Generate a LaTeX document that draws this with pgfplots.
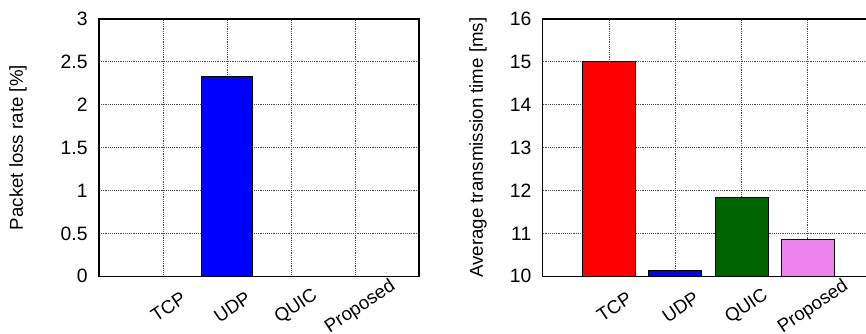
\documentclass[border=0pt]{standalone}
\usepackage{pgfplots}
\pgfplotsset{compat=1.18}
\usepackage{fontspec}
\setmainfont{Liberation Sans}
\definecolor{gred}{HTML}{FF0000}
\definecolor{gblue}{HTML}{0000FF}
\definecolor{ggreen}{HTML}{006400}
\definecolor{gviolet}{HTML}{EE82EE}
\pgfplotsset{
  mybars/.style={
    scale only axis,
    anchor=south west,
    height=193pt,
    xmin=0, xmax=5,
    xtick={1,2,3,4},
    xticklabels={TCP,UDP,QUIC,Proposed},
    major tick length=0pt,
    grid=major,
    major grid style={densely dotted, black!70, line width=0.6pt},
    axis line style={line width=0.9pt},
    tick label style={font=\fontsize{14.5}{17}\selectfont},
    label style={font=\fontsize{14}{16}\selectfont},
    /pgf/number format/assume math mode=true,
    xticklabel style={font=\fontsize{14}{16}\selectfont, xshift=4pt, yshift=-23pt, rotate=34, anchor=center},
    yticklabel style={xshift=-5pt},
    every axis plot/.append style={ybar, bar width=0.8, bar shift=0pt, draw=black, line width=0.7pt},
  }
}
\begin{document}
\begin{tikzpicture}
\path[use as bounding box] (0,0) rectangle (649.5pt,249.75pt);
\clip (0,0) rectangle (649.5pt,249.75pt);
\begin{axis}[mybars,
  at={(74.25pt,42.5pt)},
  width=240pt,
  ymin=0, ymax=3,
  ytick={0,0.5,1,1.5,2,2.5,3},
  yticklabels={0,0.5,1,1.5,2,2.5,3},
  ylabel={Packet loss rate [\%]},
  ylabel style={at={(axis description cs:-0.253,0.5)}, anchor=center},
]
\addplot[fill=gred] coordinates {(1,0)};
\addplot[fill=gblue] coordinates {(2,2.33)};
\addplot[fill=ggreen] coordinates {(3,0)};
\addplot[fill=gviolet] coordinates {(4,0)};
\end{axis}
\begin{axis}[mybars,
  at={(407pt,42.5pt)},
  width=248.6pt,
  ymin=10, ymax=16,
  ytick={10,11,12,13,14,15,16},
  ylabel={Average transmission time [ms]},
  ylabel style={at={(axis description cs:-0.195,0.5)}, anchor=center},
]
\addplot[fill=gred] coordinates {(1,15.02)};
\addplot[fill=gblue] coordinates {(2,10.14)};
\addplot[fill=ggreen] coordinates {(3,11.84)};
\addplot[fill=gviolet] coordinates {(4,10.87)};
\end{axis}
\end{tikzpicture}
\end{document}
